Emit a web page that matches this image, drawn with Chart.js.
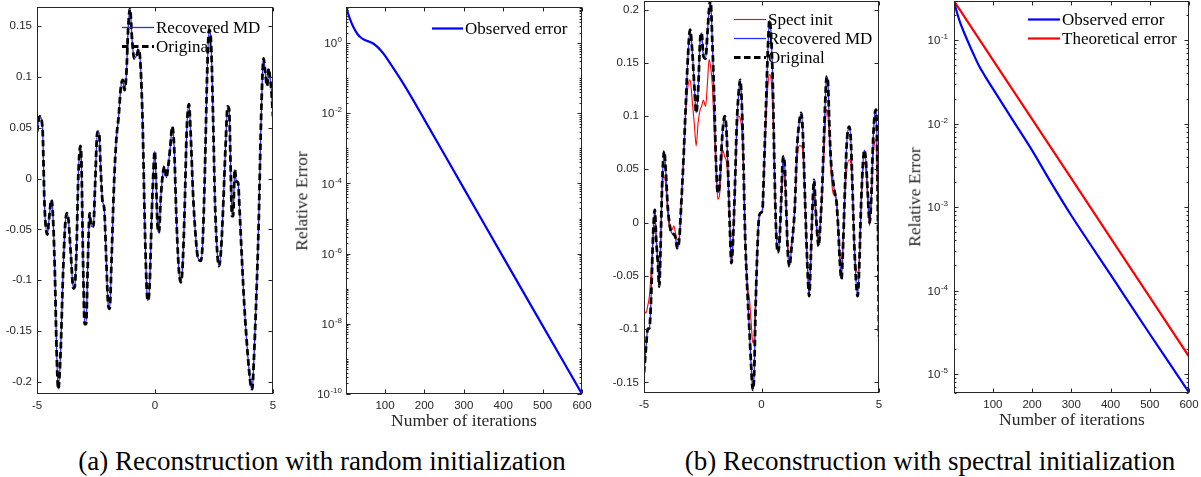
<!DOCTYPE html>
<html><head><meta charset="utf-8">
<script src="https://cdn.jsdelivr.net/npm/chart.js@4.4.1/dist/chart.umd.min.js"></script>
<style>
html,body{margin:0;padding:0;background:#fff;}
body{width:1201px;height:477px;overflow:hidden;position:relative;}
canvas{position:absolute;top:0;}
.t{position:absolute;white-space:nowrap;font-family:'Liberation Serif',serif;color:#262626;transform:translate(-50%,-50%);line-height:1;}
.r{transform:translate(-50%,-50%) rotate(-90deg);}
.cap{font-size:27px;color:#000;}
.ax{font-size:17.5px;}
</style></head><body>
<canvas id="c1" width="290" height="420" style="left:0px"></canvas>
<canvas id="c2" width="310" height="420" style="left:290px"></canvas>
<canvas id="c3" width="290" height="420" style="left:600px"></canvas>
<canvas id="c4" width="311" height="420" style="left:890px"></canvas>
<div class="t ax" style="left:464px;top:421px">Number of iterations</div>
<div class="t ax r" style="left:302px;top:201px">Relative Error</div>
<div class="t ax" style="left:1072px;top:420px">Number of iterations</div>
<div class="t ax r" style="left:915px;top:197px">Relative Error</div>
<div class="t cap" style="left:322px;top:461px">(a) Reconstruction with random initialization</div>
<div class="t cap" style="left:930px;top:461px">(b) Reconstruction with spectral initialization</div>
<script>
// ---------- Panel (a) left: signal ----------
const x1 = [-5.00,-4.89,-4.77,-4.68,-4.56,-4.49,-4.39,-4.34,-4.25,-4.17,-4.10,-4.00,-3.90,-3.81,-3.74,-3.67,-3.57,-3.46,-3.40,-3.33,-3.25,-3.16,-3.12,-3.05,-2.98,-2.92,-2.85,-2.77,-2.70,-2.61,-2.54,-2.44,-2.37,-2.30,-2.23,-2.15,-2.06,-1.98,-1.92,-1.84,-1.74,-1.64,-1.54,-1.45,-1.37,-1.29,-1.21,-1.14,-1.06,-0.97,-0.88,-0.78,-0.69,-0.61,-0.52,-0.44,-0.35,-0.30,-0.23,-0.14,-0.07,-0.01,0.04,0.11,0.17,0.24,0.32,0.40,0.48,0.56,0.65,0.73,0.81,0.90,1.00,1.09,1.17,1.26,1.34,1.44,1.51,1.61,1.71,1.82,1.94,2.02,2.12,2.20,2.29,2.37,2.46,2.54,2.63,2.71,2.80,2.90,2.99,3.08,3.14,3.21,3.26,3.31,3.38,3.45,3.52,3.59,3.67,3.77,3.88,3.98,4.07,4.12,4.19,4.29,4.39,4.48,4.55,4.60,4.66,4.75,4.82,4.87,4.93,5.00];
const original1 = [0.046,0.061,0.051,-0.027,-0.055,-0.040,-0.021,-0.030,-0.086,-0.168,-0.207,-0.171,-0.096,-0.047,-0.034,-0.040,-0.073,-0.108,-0.106,-0.073,0.002,0.032,0.019,-0.079,-0.143,-0.143,-0.086,-0.034,-0.047,-0.047,-0.008,0.046,0.045,0.009,-0.021,-0.030,-0.083,-0.125,-0.128,-0.079,-0.008,0.038,0.061,0.089,0.097,0.087,0.104,0.146,0.167,0.136,0.118,0.121,0.127,0.110,0.051,-0.037,-0.109,-0.120,-0.106,-0.037,0.006,0.027,0.002,-0.047,-0.053,-0.021,0.002,0.012,0.001,0.012,0.032,0.051,0.032,-0.034,-0.086,-0.102,-0.086,-0.027,0.045,0.073,0.045,-0.014,-0.053,-0.078,-0.081,-0.063,0.012,0.094,0.146,0.136,0.061,-0.021,-0.070,-0.086,-0.070,-0.021,0.032,0.071,0.068,0.006,-0.037,-0.037,0.009,-0.003,-0.004,-0.034,-0.073,-0.119,-0.158,-0.187,-0.205,-0.207,-0.178,-0.119,-0.047,0.045,0.100,0.118,0.107,0.091,0.108,0.100,0.087,0.061];
const recovered1 = original1.slice();
const xTicks1 = [-5,0,5];
const yTicks1 = [-0.2,-0.15,-0.1,-0.05,0,0.05,0.1,0.15];

// ---------- Panel (a) right: error ----------
const iter2 = [1,10,20,30,40,50,60,70,80,90,100,150,200,300,400,500,600];
const observed2 = [10.7,5.25,2.82,1.82,1.40,1.20,1.10,0.977,0.794,0.603,0.437,0.0603,6.61e-3,7.24e-5,7.94e-7,8.91e-9,1.0e-10];
const xTicks2 = [100,200,300,400,500,600];
const yTicks2 = [1e-10,1e-8,1e-6,1e-4,1e-2,1];

// ---------- Panel (b) left: signal ----------
const x3 = [-5.00,-4.92,-4.84,-4.77,-4.70,-4.61,-4.54,-4.48,-4.41,-4.35,-4.30,-4.23,-4.14,-4.07,-3.99,-3.90,-3.82,-3.73,-3.66,-3.59,-3.50,-3.42,-3.32,-3.23,-3.13,-3.04,-2.95,-2.85,-2.78,-2.70,-2.61,-2.55,-2.47,-2.38,-2.30,-2.23,-2.17,-2.09,-2.01,-1.93,-1.86,-1.79,-1.72,-1.65,-1.57,-1.50,-1.43,-1.35,-1.28,-1.21,-1.13,-1.05,-0.96,-0.91,-0.85,-0.78,-0.70,-0.61,-0.51,-0.44,-0.37,-0.31,-0.26,-0.18,-0.11,-0.04,0.04,0.11,0.20,0.27,0.34,0.41,0.48,0.55,0.62,0.70,0.77,0.84,0.92,0.99,1.05,1.12,1.19,1.26,1.35,1.42,1.50,1.60,1.69,1.76,1.83,1.91,1.97,2.03,2.10,2.17,2.24,2.30,2.37,2.43,2.50,2.58,2.65,2.71,2.77,2.82,2.89,2.96,3.04,3.12,3.18,3.26,3.33,3.40,3.48,3.55,3.63,3.73,3.80,3.87,3.94,4.01,4.09,4.16,4.23,4.31,4.38,4.45,4.52,4.60,4.67,4.74,4.81,4.88,4.94,5.00];
const original3 = [-0.141,-0.119,-0.100,-0.099,-0.072,-0.010,0.012,-0.016,-0.038,-0.060,-0.028,0.034,0.067,0.047,0.015,-0.003,-0.010,-0.011,-0.014,-0.024,-0.016,0.015,0.059,0.106,0.156,0.181,0.162,0.125,0.103,0.122,0.172,0.178,0.156,0.154,0.178,0.200,0.209,0.168,0.115,0.053,0.028,0.034,0.062,0.087,0.100,0.090,0.053,-0.003,-0.038,-0.016,0.034,0.093,0.125,0.134,0.118,0.068,-0.010,-0.060,-0.103,-0.135,-0.157,-0.141,-0.088,-0.028,0.004,0.009,0.012,0.053,0.115,0.162,0.190,0.175,0.131,0.053,-0.007,-0.028,-0.016,0.022,0.062,0.053,0.015,-0.028,-0.041,-0.028,-0.007,0.015,0.065,0.093,0.103,0.084,0.037,-0.016,-0.050,-0.069,-0.032,0.015,0.040,0.015,-0.010,-0.022,-0.003,0.031,0.075,0.112,0.137,0.134,0.090,0.056,0.040,0.028,0.022,-0.003,-0.035,-0.053,-0.016,0.031,0.075,0.090,0.078,0.034,-0.016,-0.050,-0.069,-0.041,0.012,0.053,0.068,0.056,0.028,0.000,0.022,0.072,0.100,0.106,0.034,-0.107];
const recovered3 = original3.slice();
const spect3 = [-0.082,-0.085,-0.078,-0.069,-0.047,-0.010,0.009,-0.013,-0.035,-0.053,-0.028,0.031,0.043,0.034,0.009,-0.007,-0.007,-0.003,-0.010,-0.016,-0.014,0.015,0.059,0.100,0.128,0.134,0.115,0.090,0.072,0.093,0.106,0.109,0.115,0.109,0.131,0.153,0.147,0.128,0.084,0.047,0.022,0.025,0.050,0.068,0.062,0.058,0.040,-0.003,-0.038,-0.016,0.028,0.084,0.100,0.098,0.090,0.059,-0.010,-0.057,-0.072,-0.094,-0.113,-0.107,-0.072,-0.028,0.004,0.009,0.012,0.047,0.100,0.128,0.139,0.134,0.106,0.050,-0.007,-0.016,-0.010,0.018,0.047,0.040,0.012,-0.022,-0.028,-0.022,-0.007,0.015,0.053,0.072,0.072,0.065,0.034,-0.016,-0.047,-0.063,-0.032,0.012,0.028,0.009,-0.013,-0.019,-0.003,0.025,0.059,0.090,0.106,0.103,0.078,0.047,0.028,0.025,0.022,-0.003,-0.028,-0.041,-0.013,0.025,0.050,0.059,0.056,0.028,-0.016,-0.041,-0.047,-0.035,0.009,0.047,0.056,0.047,0.022,-0.003,0.018,0.059,0.075,0.078,0.022,-0.072];
const xTicks3 = [-5,0,5];
const yTicks3 = [-0.15,-0.1,-0.05,0,0.05,0.1,0.15,0.2];

// ---------- Panel (b) right: errors ----------
const iter4 = [1,8,16,25,35,50,65,80,100,150,200,250,300,400,500,600];
const observed4 = [0.295,0.219,0.166,0.129,0.100,0.0692,0.0490,0.0372,0.0263,0.0112,4.79e-3,1.91e-3,7.94e-4,1.55e-4,3.02e-5,6.03e-6];
const iterT4 = [1,100,200,300,400,500,600];
const theoretical4 = [0.295,0.0583,0.01135,2.21e-3,4.29e-4,8.34e-5,1.62e-5];
const xTicks4 = [100,200,300,400,500,600];
const yTicks4 = [1e-5,1e-4,1e-3,1e-2,1e-1];

// ---------- helpers ----------
const AXC = '#262626';
const TICKFONT = "'Liberation Sans', Arial, sans-serif";
Chart.defaults.font.family = TICKFONT;
Chart.defaults.font.size = 11.5;
Chart.defaults.color = AXC;

const framePlugin = {
  id: 'frame',
  afterDatasetsDraw(chart, args, o) {
    const {ctx, chartArea: a} = chart;
    const xs = chart.scales.x, ys = chart.scales.y;
    const L = 4, Lm = 2;
    const l = Math.round(a.left) + 0.5, r = Math.round(a.right) - 0.5;
    const t = Math.round(a.top) + 0.5, b = Math.round(a.bottom) - 0.5;
    ctx.save();
    ctx.strokeStyle = AXC; ctx.lineWidth = 1;
    ctx.beginPath();
    o.xTicks.forEach(v => {
      const p = Math.round(xs.getPixelForValue(v)) + 0.5;
      ctx.moveTo(p, b); ctx.lineTo(p, b - L);
      ctx.moveTo(p, t); ctx.lineTo(p, t + L);
    });
    o.yTicks.forEach(v => {
      const p = Math.round(ys.getPixelForValue(v)) + 0.5;
      ctx.moveTo(l, p); ctx.lineTo(l + L, p);
      ctx.moveTo(r, p); ctx.lineTo(r - L, p);
    });
    if (o.log) {
      const lo = Math.floor(Math.log10(ys.min)), hi = Math.ceil(Math.log10(ys.max));
      for (let d = lo; d <= hi; d++) {
        for (let m = 1; m <= 9; m++) {
          const v = m * Math.pow(10, d);
          if (v < ys.min || v > ys.max) continue;
          const p = Math.round(ys.getPixelForValue(v)) + 0.5;
          ctx.moveTo(l, p); ctx.lineTo(l + Lm, p);
          ctx.moveTo(r, p); ctx.lineTo(r - Lm, p);
        }
      }
    }
    ctx.stroke();
    ctx.strokeRect(l, t, r - l, b - t);
    // power-of-ten tick labels with raised exponent
    if (o.log) {
      ctx.fillStyle = AXC;
      ctx.textBaseline = 'middle';
      ctx.textAlign = 'left';
      o.yTicks.forEach(v => {
        const p = ys.getPixelForValue(v);
        const ex = String(Math.round(Math.log10(v)));
        ctx.font = "8px " + TICKFONT;
        const ew = ctx.measureText(ex).width;
        ctx.font = "11.5px " + TICKFONT;
        const bw = ctx.measureText('10').width;
        const xr = a.left - o.labPad;
        ctx.fillText('10', xr - ew - bw - 0.5, p + 1);
        ctx.font = "8px " + TICKFONT;
        ctx.fillText(ex, xr - ew, p - 3);
      });
    }
    ctx.restore();
  }
};

const legendPlugin = {
  id: 'lg',
  afterDraw(chart, args, o) {
    const {ctx, chartArea: a} = chart;
    ctx.save();
    ctx.font = "17px 'Liberation Serif', serif";
    ctx.textBaseline = 'middle';
    ctx.fillStyle = '#000';
    o.items.forEach((idx, i) => {
      const ds = chart.data.datasets[idx];
      const y = Math.round(a.top + o.y + i * o.dy) + 0.5;
      const x0 = a.left + o.x;
      ctx.strokeStyle = ds.borderColor;
      ctx.lineWidth = ds.borderWidth;
      ctx.setLineDash(ds.borderDash || []);
      ctx.beginPath(); ctx.moveTo(x0, y); ctx.lineTo(x0 + o.len, y); ctx.stroke();
      ctx.setLineDash([]);
      ctx.fillText(ds.label, x0 + o.len + 2, y + 1);
    });
    ctx.restore();
  }
};

function xy(xs, ys) { return xs.map((x, i) => ({x: x, y: ys[i]})); }

function makeChart(id, cfg) {
  const yLog = !!cfg.log;
  return new Chart(document.getElementById(id), {
    type: 'line',
    data: {datasets: cfg.datasets},
    plugins: [framePlugin, legendPlugin],
    options: {
      responsive: false, animation: false, devicePixelRatio: 1,
      events: [],
      layout: {padding: {left: 0, top: cfg.top, right: cfg.right, bottom: 0}},
      elements: {point: {radius: 0}},
      plugins: {
        legend: {display: false}, tooltip: {enabled: false},
        frame: {xTicks: cfg.xTicks, yTicks: cfg.yTicks, log: yLog, labPad: cfg.yPad},
        lg: cfg.legend
      },
      scales: {
        x: {
          type: 'linear', min: cfg.xMin, max: cfg.xMax,
          grid: {display: false, drawTicks: false}, border: {display: false},
          ticks: {autoSkip: false, maxRotation: 0, padding: 5, callback: v => String(v)},
          afterBuildTicks: s => { s.ticks = cfg.xTicks.map(v => ({value: v})); },
          afterFit: s => { s.height = cfg.xh; s.paddingLeft = 0; s.paddingRight = 0; }
        },
        y: {
          type: yLog ? 'logarithmic' : 'linear', min: cfg.yMin, max: cfg.yMax,
          grid: {display: false, drawTicks: false}, border: {display: false},
          ticks: {display: !yLog, autoSkip: false, padding: cfg.yPad, callback: v => String(v)},
          afterBuildTicks: s => { s.ticks = cfg.yTicks.map(v => ({value: v})); },
          afterFit: s => { s.width = cfg.yw; s.paddingTop = 0; s.paddingBottom = 0; }
        }
      }
    }
  });
}

// Panel 1
makeChart('c1', {
  top: 7, right: 17, xh: 26, yw: 37, yPad: 5,
  xMin: -5, xMax: 5, yMin: -0.2118, yMax: 0.1686,
  xTicks: xTicks1, yTicks: yTicks1,
  legend: {items: [0, 1], x: 85, y: 20, dy: 19, len: 32},
  datasets: [
    {label: 'Recovered MD', data: xy(x1, recovered1), borderColor: 'rgb(45,45,255)', borderWidth: 1.3, cubicInterpolationMode: 'monotone', order: 1},
    {label: 'Original', data: xy(x1, original1), borderColor: '#000', borderWidth: 2.8, borderDash: [6.5, 3.5], cubicInterpolationMode: 'monotone', order: 0}
  ]
});

// Panel 2
makeChart('c2', {
  log: true, top: 7, right: 18, xh: 26, yw: 56, yPad: 4,
  xMin: 1, xMax: 600, yMin: 1e-10, yMax: 10.7,
  xTicks: xTicks2, yTicks: yTicks2,
  legend: {items: [0], x: 86, y: 21, dy: 19, len: 31},
  datasets: [
    {label: 'Observed error', data: xy(iter2, observed2), borderColor: '#0000ff', borderWidth: 2.2, tension: 0.3}
  ]
});

// Panel 3
makeChart('c3', {
  top: 1, right: 11, xh: 27, yw: 44, yPad: 5,
  xMin: -5, xMax: 5, yMin: -0.16, yMax: 0.208,
  xTicks: xTicks3, yTicks: yTicks3,
  legend: {items: [0, 1, 2], x: 90, y: 18, dy: 19, len: 32},
  datasets: [
    {label: 'Spect init', data: xy(x3, spect3), borderColor: '#ff0000', borderWidth: 1.1, cubicInterpolationMode: 'monotone', order: 2},
    {label: 'Recovered MD', data: xy(x3, recovered3), borderColor: 'rgb(45,45,255)', borderWidth: 1.3, cubicInterpolationMode: 'monotone', order: 1},
    {label: 'Original', data: xy(x3, original3), borderColor: '#000', borderWidth: 2.8, borderDash: [6.5, 3.5], cubicInterpolationMode: 'monotone', order: 0}
  ]
});

// Panel 4
makeChart('c4', {
  log: true, top: 1, right: 12, xh: 27, yw: 64, yPad: 6,
  xMin: 1, xMax: 600, yMin: 5.93e-6, yMax: 0.295,
  xTicks: xTicks4, yTicks: yTicks4,
  legend: {items: [0, 1], x: 74, y: 18, dy: 19, len: 32},
  datasets: [
    {label: 'Observed error', data: xy(iter4, observed4), borderColor: '#0000ff', borderWidth: 2.2, tension: 0.3, order: 0},
    {label: 'Theoretical error', data: xy(iterT4, theoretical4), borderColor: '#ff0000', borderWidth: 2.2, order: 1}
  ]
});
</script>
</body></html>
